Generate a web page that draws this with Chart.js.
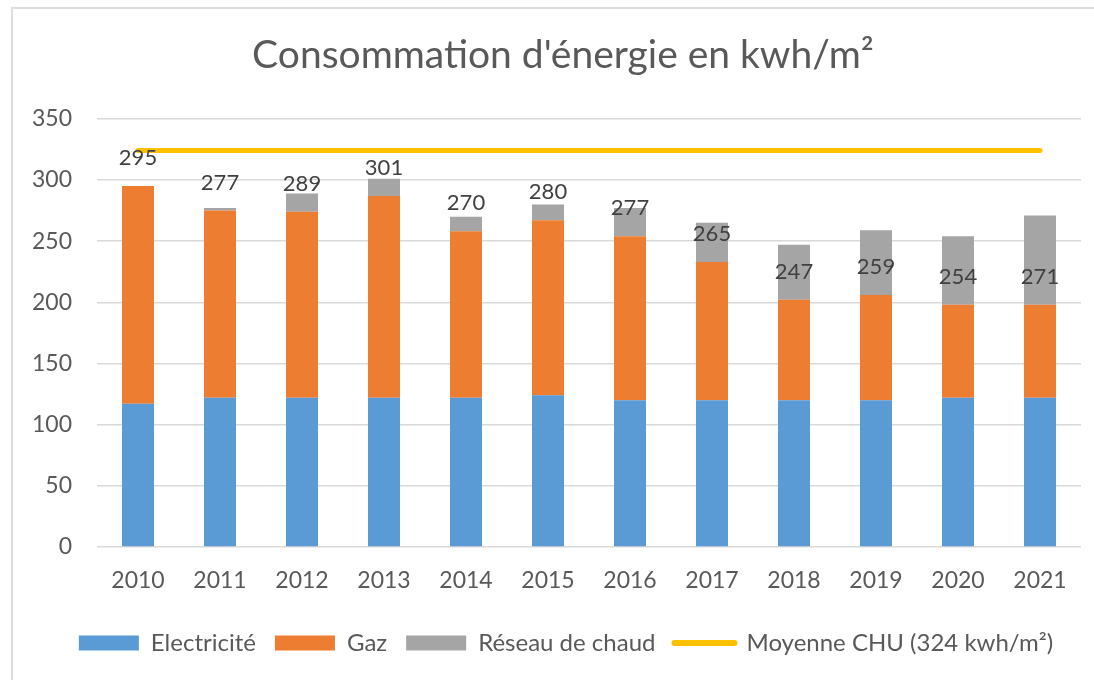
<!DOCTYPE html>
<html lang="fr">
<head>
<meta charset="utf-8">
<title>Consommation d'énergie en kwh/m²</title>
<script src="https://cdn.jsdelivr.net/npm/chart.js@4.4.1/dist/chart.umd.min.js"></script>
<style>
  html, body { margin: 0; padding: 0; background: #ffffff; }
  #wrap { position: relative; width: 1094px; height: 680px; overflow: hidden; }
  #cadre {
    position: absolute; left: 11px; top: 7px; width: 1200px; height: 800px;
    border-left: 2px solid #dcdcdc; border-top: 2px solid #dcdcdc;
  }
  #graph { position: absolute; left: 0; top: 0; }
</style>
</head>
<body>
<div id="wrap">
  <div id="cadre"></div>
  <canvas id="graph" width="1094" height="680"></canvas>
</div>
<script>
// données
const annees = ["2010", "2011", "2012", "2013", "2014", "2015", "2016", "2017", "2018", "2019", "2020", "2021"];
const electricite = [117, 122, 122, 122, 122, 124, 120, 120, 120, 120, 122, 122];
const gaz = [178, 153, 152, 165, 136, 143, 134, 113, 82, 86, 76, 76];
const reseauChaud = [0, 2, 15, 14, 12, 13, 23, 32, 45, 53, 56, 73];
const moyenneCHU = [324, 324, 324, 324, 324, 324, 324, 324, 324, 324, 324, 324];
const ticksY = [0, 50, 100, 150, 200, 250, 300, 350];

const police = "Lato, 'Open Sans', sans-serif";

// étiquette du total, posée au-dessus du haut de la partie gaz
const totalLabels = {
  id: "totalLabels",
  afterDatasetsDraw(chart) {
    const ctx = chart.ctx;
    const y = chart.scales.y;
    const meta = chart.getDatasetMeta(0);
    ctx.save();
    ctx.font = "22px " + police;
    ctx.fillStyle = "#404040";
    ctx.textAlign = "center";
    ctx.textBaseline = "middle";
    annees.forEach((a, i) => {
      const total = electricite[i] + gaz[i] + reseauChaud[i];
      const py = y.getPixelForValue(electricite[i] + gaz[i]) - 28;
      ctx.fillText(String(total), meta.data[i].x, py);
    });
    ctx.restore();
  },
};

// le titre et la légende sont un peu décalés vers la droite dans l'original
const recentrage = {
  id: "recentrage",
  afterLayout(chart) {
    if (chart.titleBlock) chart.titleBlock.left = 45;
    if (chart.legend) chart.legend.left = 51;
  },
};

const ctx = document.getElementById("graph");
new Chart(ctx, {
  type: "bar",
  data: {
    labels: annees,
    datasets: [
      {
        label: "Electricité",
        data: electricite,
        backgroundColor: "#5B9BD5",
        stack: "energie",
      },
      {
        label: "Gaz",
        data: gaz,
        backgroundColor: "#ED7D31",
        stack: "energie",
      },
      {
        label: "Réseau de chaud",
        data: reseauChaud,
        backgroundColor: "#A5A5A5",
        stack: "energie",
      },
      {
        type: "line",
        label: "Moyenne CHU (324 kwh/m²)",
        data: moyenneCHU,
        borderColor: "#FFC000",
        backgroundColor: "#FFC000",
        borderWidth: 5,
        borderCapStyle: "round",
        pointRadius: 0,
        stack: "moyenne",
      },
    ],
  },
  options: {
    responsive: false,
    animation: false,
    layout: { padding: { left: 0, right: 13, top: 0, bottom: 15 } },
    datasets: {
      bar: { categoryPercentage: 1, barPercentage: 0.39 },
    },
    plugins: {
      tooltip: { enabled: false },
      title: {
        display: true,
        text: "Consommation d'énergie en kwh/m²",
        color: "#595959",
        font: { family: police, size: 39, weight: "normal" },
        padding: { top: 32, bottom: 40 },
      },
      legend: {
        position: "bottom",
        labels: {
          color: "#595959",
          font: { family: police, size: 24 },
          usePointStyle: true,
          pointStyleWidth: 60,
          boxHeight: 15,
          padding: 19,
          generateLabels(chart) {
            const items = Chart.defaults.plugins.legend.labels.generateLabels(chart);
            items.forEach((it) => {
              const ds = chart.data.datasets[it.datasetIndex];
              if (ds.type === "line") {
                it.pointStyle = "line";
                it.strokeStyle = "#FFC000";
                it.lineWidth = 6;
                it.lineCap = "round";
              } else {
                it.pointStyle = "rect";
                it.lineWidth = 0;
                it.strokeStyle = ds.backgroundColor;
              }
            });
            return items;
          },
        },
      },
    },
    scales: {
      x: {
        stacked: true,
        grid: { display: false },
        border: { display: false },
        ticks: {
          color: "#595959",
          font: { family: police, size: 23 },
          padding: 12,
        },
        afterFit(scale) {
          scale.height = 65;
        },
      },
      y: {
        stacked: true,
        min: 0,
        max: 350,
        afterBuildTicks(scale) {
          scale.ticks = ticksY.map((v) => ({ value: v }));
        },
        grid: { color: "#d9d9d9", lineWidth: 1.5, drawTicks: false },
        border: { display: false },
        ticks: {
          color: "#595959",
          font: { family: police, size: 23 },
          padding: 25,
        },
        afterFit(scale) {
          scale.width = 97;
        },
      },
    },
  },
  plugins: [totalLabels, recentrage],
});
</script>
</body>
</html>
